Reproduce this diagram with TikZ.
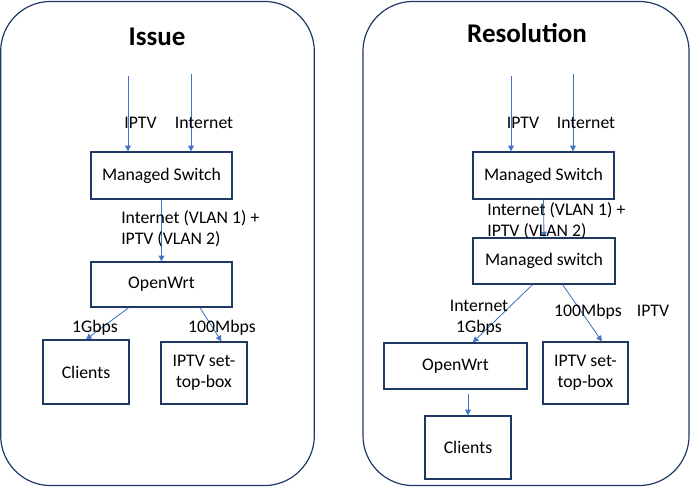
\documentclass[tikz,border=0pt]{standalone}
\usepackage{fontspec}
\setmainfont{Carlito}
\usepackage{xcolor}
\usetikzlibrary{positioning,arrows.meta,calc}
\definecolor{cEdge}{HTML}{1F3864}
\definecolor{cLink}{HTML}{4472C4}
\tikzset{
  panel/.style={draw=cEdge, line width=0.85pt, rounded corners=1.25cm,
                inner sep=0pt},
  box/.style={draw=cEdge, line width=0.9pt, fill=white, inner sep=0pt,
              align=center, font=\fontsize{12.6}{15}\selectfont},
  ttl/.style={font=\fontsize{19.2}{22}\selectfont\bfseries, anchor=base, inner sep=0pt},
  lbl/.style={font=\fontsize{12.6}{15}\selectfont, inner sep=0pt},
  link/.style={draw=cLink, line width=0.6pt, -{Triangle[length=4pt,width=4pt]}},
}

\begin{document}
\begin{tikzpicture}[x=0.025cm, y=-0.025cm]
\useasboundingbox (0,0) rectangle (690,487);

% ========== PANEL 1: ISSUE ==========
\node[panel, minimum width=7.84cm, minimum height=12.1cm] (pIssue) at (157.5,243.5) {};
\node[ttl] (tIssue) at (157,45) {Issue};

\node[box, minimum width=3.525cm, minimum height=1.175cm] (ms1) at (161.5,175.5) {Managed Switch};
\node[box, minimum width=3.525cm, minimum height=1.125cm] (ow1) at (161.5,284.5) {OpenWrt};
\node[box, minimum width=2.15cm, minimum height=1.6cm] (cl1) at (86,372) {Clients};
\node[box, minimum width=2.15cm, minimum height=1.55cm] (stb1) at (204,373) {IPTV set-\\top-box};

\coordinate (in1a) at (128,76);
\coordinate (in1b) at (191,74);
\draw[link] (in1a) -- (in1a |- ms1.north);
\draw[link] (in1b) -- (in1b |- ms1.north);
\node[lbl, anchor=base] (l1a) at (140.5,128) {IPTV};
\node[lbl, anchor=base] (l1b) at (204,128) {Internet};

\draw[link] (ms1.south) -- (ow1.north);
\node[lbl, anchor=west, align=left] (l1c) at (121,229) {Internet (VLAN 1) +\\IPTV (VLAN 2)};

\draw[link] ($(ow1.south west)!0.27!(ow1.south east)$) -- (cl1.north);
\draw[link] ($(ow1.south west)!0.77!(ow1.south east)$) -- ($(stb1.north west)!0.7!(stb1.north east)$);
\node[lbl, anchor=base] (l1d) at (95,332) {1Gbps};
\node[lbl, anchor=base] (l1e) at (222,332) {100Mbps};

% ========== PANEL 2: RESOLUTION ==========
\node[panel, minimum width=8.15cm, minimum height=12.1cm] (pRes) at (526,243.5) {};
\node[ttl] (tRes) at (527,42) {Resolution};

\node[box, minimum width=3.525cm, minimum height=1.175cm] (ms2) at (543.5,175.5) {Managed Switch};
\node[box, minimum width=3.55cm, minimum height=1.15cm] (msw2) at (544,261) {Managed switch};
\node[box, minimum width=3.575cm, minimum height=1.15cm] (ow2) at (455.5,366) {OpenWrt};
\node[box, minimum width=2.15cm, minimum height=1.575cm] (cl2) at (468,447.5) {Clients};
\node[box, minimum width=2.125cm, minimum height=1.55cm] (stb2) at (585.5,373) {IPTV set-\\top-box};

\coordinate (in2a) at (511,76);
\coordinate (in2b) at (573,74);
\draw[link] (in2a) -- (in2a |- ms2.north);
\draw[link] (in2b) -- (in2b |- ms2.north);
\node[lbl, anchor=base] (l2a) at (523,128) {IPTV};
\node[lbl, anchor=base] (l2b) at (586,128) {Internet};

\draw[link] (ms2.south) -- (msw2.north);
\node[lbl, anchor=west, align=left] (l2c) at (487,221) {Internet (VLAN 1) +\\IPTV (VLAN 2)};

\draw[link] ($(msw2.south west)!0.42!(msw2.south east)$) -- ($(ow2.north west)!0.62!(ow2.north east)$);
\draw[link] ($(msw2.south west)!0.63!(msw2.south east)$) -- ($(stb2.north west)!0.69!(stb2.north east)$);
\node[lbl, align=center] (l2d) at (479,318) {Internet\\1Gbps};
\node[lbl, anchor=base] (l2e) at (588,316) {100Mbps};
\node[lbl, anchor=base] (l2f) at (653,316) {IPTV};

\draw[link] ([yshift=-3pt]ow2.south -| cl2.north) -- (cl2.north);

\end{tikzpicture}
\end{document}
